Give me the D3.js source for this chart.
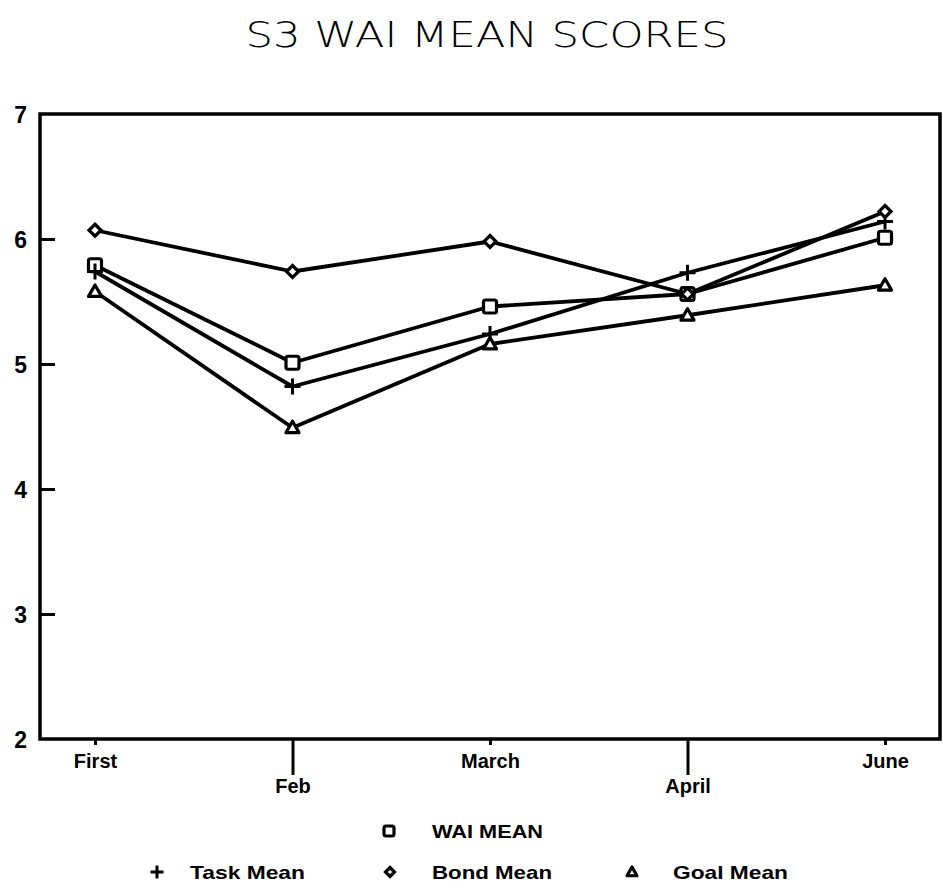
<!DOCTYPE html>
<html>
<head>
<meta charset="utf-8">
<script src="https://cdn.jsdelivr.net/npm/d3@7"></script>
<style>
  html, body { margin: 0; padding: 0; background: #fff; }
  svg { display: block; }
  .lbl { font-family: "Liberation Sans", Arial, sans-serif; font-weight: bold; font-size: 19px; fill: #000; }
</style>
</head>
<body>
<svg id="chart" width="943" height="888"></svg>
<script>
// Sessions along the x axis
const sessions = ["First", "Feb", "March", "April", "June"];
// Mean scores per subscale
const waiMean  = [5.79, 5.01, 5.46, 5.56, 6.01];
const taskMean = [5.74, 4.82, 5.24, 5.73, 6.14];
const bondMean = [6.07, 5.74, 5.98, 5.56, 6.22];
const goalMean = [5.58, 4.49, 5.16, 5.39, 5.63];
const yTicks = [2, 3, 4, 5, 6, 7];

const series = [
  { name: "WAI MEAN",  values: waiMean,  symbol: "square" },
  { name: "Task Mean", values: taskMean, symbol: "plus" },
  { name: "Bond Mean", values: bondMean, symbol: "diamond" },
  { name: "Goal Mean", values: goalMean, symbol: "triangle" }
];

const svg = d3.select("#chart");
const frame = { left: 40, right: 940, top: 114, bottom: 739 };

const x = d3.scalePoint().domain(sessions).range([95, 885]);
const y = d3.scaleLinear().domain([2, 7]).range([frame.bottom, frame.top]);

// Title
svg.append("text")
  .attr("x", 487).attr("y", 47)
  .attr("text-anchor", "middle")
  .attr("textLength", 483).attr("lengthAdjust", "spacingAndGlyphs")
  .style("font-family", "'DejaVu Sans', sans-serif")
  .style("font-size", "35px")
  .style("font-weight", "300")
  .text("S3 WAI MEAN SCORES");

// Plot frame
svg.append("rect")
  .attr("x", frame.left).attr("y", frame.top)
  .attr("width", frame.right - frame.left).attr("height", frame.bottom - frame.top)
  .attr("fill", "none").attr("stroke", "#000").attr("stroke-width", 3.5);

// Y axis: ticks point into the plot
const yAxis = svg.append("g")
  .attr("transform", `translate(${frame.left},0)`)
  .call(d3.axisLeft(y).tickValues(yTicks).tickSize(-15).tickPadding(13).tickFormat(d3.format("d")));
yAxis.select(".domain").remove();
yAxis.selectAll(".tick line").attr("stroke", "#000").attr("stroke-width", 3);
yAxis.selectAll(".tick text")
  .attr("dy", "0.35em")
  .style("font-family", "'Liberation Sans', Arial, sans-serif")
  .style("font-size", "23px").style("font-weight", "bold").style("fill", "#000");
// hide ticks that sit on the frame corners
yAxis.selectAll(".tick").filter(d => d === 2 || d === 7).select("line").remove();

// X axis: alternating short and long ticks with staggered labels
const xAxis = svg.append("g")
  .attr("transform", `translate(0,${frame.bottom})`)
  .call(d3.axisBottom(x).tickSize(6).tickPadding(0));
xAxis.select(".domain").remove();
xAxis.selectAll(".tick line").attr("stroke", "#000").attr("stroke-width", 3)
  .attr("y2", (d, i) => i % 2 ? 36 : 6);
xAxis.selectAll(".tick text")
  .style("font-family", "'Liberation Sans', Arial, sans-serif")
  .style("font-size", "20px").style("font-weight", "bold").style("fill", "#000")
  .attr("y", (d, i) => i % 2 ? 40 : 15)
  .attr("dy", "0.71em");

// Marker shapes
function marker(g, type, cx, cy, s) {
  const h = s / 2;
  if (type === "square") {
    g.append("rect").attr("x", cx - h).attr("y", cy - h).attr("width", s).attr("height", s)
      .attr("rx", 2).attr("fill", "#fff").attr("stroke", "#000").attr("stroke-width", 3.2);
  } else if (type === "plus") {
    g.append("path").attr("d", `M${cx - h},${cy}H${cx + h}M${cx},${cy - h}V${cy + h}`)
      .attr("stroke", "#000").attr("stroke-width", 3).attr("fill", "none");
  } else if (type === "diamond") {
    g.append("path").attr("d", `M${cx},${cy - h}L${cx + h},${cy}L${cx},${cy + h}L${cx - h},${cy}Z`)
      .attr("fill", "#fff").attr("stroke", "#000").attr("stroke-width", 3.2);
  } else if (type === "triangle") {
    g.append("path").attr("d", `M${cx},${cy - h}L${cx + h},${cy + h * 0.75}L${cx - h},${cy + h * 0.75}Z`)
      .attr("fill", "#fff").attr("stroke", "#000").attr("stroke-width", 3.2).attr("stroke-linejoin", "round");
  }
}

const line = d3.line().x((d, i) => x(sessions[i])).y(d => y(d));

const lines = svg.append("g");
series.forEach(s => {
  lines.append("path").datum(s.values)
    .attr("d", line)
    .attr("fill", "none").attr("stroke", "#000").attr("stroke-width", 3.8)
    .attr("stroke-linejoin", "round");
});
const marks = svg.append("g");
series.forEach(s => {
  s.values.forEach((v, i) => {
    const size = s.symbol === "diamond" ? 12 : s.symbol === "plus" ? 16 : 13;
    marker(marks, s.symbol, x(sessions[i]), y(v), size);
  });
});

// Legend
const legendItems = [
  { s: series[0], mx: 389, my: 831, tx: 432, w: 111 },
  { s: series[1], mx: 157, my: 872, tx: 190, w: 115 },
  { s: series[2], mx: 390, my: 872, tx: 432, w: 120 },
  { s: series[3], mx: 632, my: 872, tx: 673, w: 115 }
];
const legend = svg.append("g");
legendItems.forEach(it => {
  const size = it.s.symbol === "diamond" ? 9 : it.s.symbol === "plus" ? 13 : 10;
  marker(legend, it.s.symbol, it.mx, it.my, size);
  legend.append("text")
    .attr("class", "lbl")
    .attr("x", it.tx).attr("y", it.my + 7)
    .attr("textLength", it.w).attr("lengthAdjust", "spacingAndGlyphs")
    .text(it.s.name);
});
</script>
</body>
</html>
